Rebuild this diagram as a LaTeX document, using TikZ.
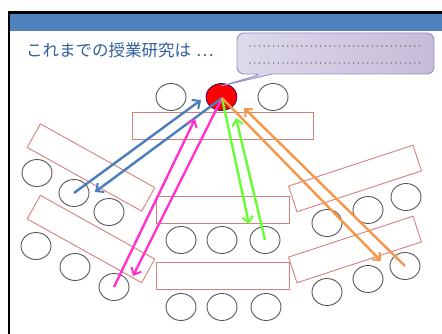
\documentclass[tikz,border=0pt]{standalone}
\usepackage{fontspec}
\newfontfamily\cjk{Noto Sans CJK JP}
\usetikzlibrary{shapes.geometric,arrows.meta}
\definecolor{barblue}{HTML}{4F81BD}
\definecolor{titleblue}{HTML}{2F5E9E}
\definecolor{deskred}{HTML}{D4807C}
\definecolor{seatgray}{HTML}{555555}
\definecolor{arrblue}{HTML}{4A7EBB}
\definecolor{arrmag}{HTML}{FF33CC}
\definecolor{arrgreen}{HTML}{66FF33}
\definecolor{arrorange}{HTML}{F79646}
\definecolor{calloutA}{HTML}{E0DBEC}
\definecolor{calloutB}{HTML}{C6BCD9}
\definecolor{calloutline}{HTML}{9D8CC2}
\tikzset{
  seat/.style={ellipse, draw=seatgray, line width=0.9pt, minimum width=30pt, minimum height=27pt, inner sep=0pt},
  desk/.style={rectangle, draw=deskred, line width=0.9pt, minimum width=131pt, minimum height=27pt, inner sep=0pt},
  arr/.style={line width=2.4pt, -{Straight Barb[length=6pt,width=11pt,line width=2pt]}},
  dotline/.style={gray, line width=1.6pt, line cap=round, dash pattern=on 0.01pt off 4.7pt},
}
\begin{document}
\begin{tikzpicture}[x=1pt,y=-1pt]
\useasboundingbox (0,0) rectangle (442,334);
% frame
\fill[barblue] (9,13) rectangle (442,31);
\draw[line width=2.5pt] (9,334) -- (9,12.5) -- (442,12.5);
% title
\node[anchor=west, inner sep=0pt, text=titleblue, font=\cjk\fontsize{16.5pt}{18pt}\selectfont] (title) at (26,50) {これまでの授業研究は\hspace{5pt}…};
% desks
\node[desk, minimum width=181pt] (d1) at (222.5,125.5) {};
\node[desk, minimum width=133pt] (d2) at (222.5,209.5) {};
\node[desk, minimum width=133pt] (d3) at (222.5,275.5) {};
\node[desk, rotate=-29.1] (dl1) at (91,167.5) {};
\node[desk, rotate=-29.1] (dl2) at (91,239) {};
\node[desk, rotate=18.2] (dr1) at (355,178.5) {};
\node[desk, rotate=18.2] (dr2) at (355,249.5) {};
% seats
\node[seat] (t1) at (171,97) {};
\node[seat] (t3) at (273,97) {};
\node[seat] (m1) at (181,240) {};
\node[seat] (m2) at (222,240) {};
\node[seat] (m3) at (265,240) {};
\node[seat] (b1) at (181,307) {};
\node[seat] (b2) at (222,307) {};
\node[seat] (b3) at (266,307) {};
\node[seat] (la1) at (37,173) {};
\node[seat] (la2) at (74,193) {};
\node[seat] (la3) at (109,212) {};
\node[seat] (lb1) at (36,246) {};
\node[seat] (lb2) at (75,267) {};
\node[seat] (lb3) at (114,287) {};
\node[seat] (ra1) at (327,223) {};
\node[seat] (ra2) at (368,210) {};
\node[seat] (ra3) at (406,197) {};
\node[seat] (rb1) at (327,292) {};
\node[seat] (rb2) at (368,279) {};
\node[seat] (rb3) at (405,266) {};
% teacher
\node[ellipse, fill=red, draw=black!60!blue, line width=0.6pt, minimum width=31pt, minimum height=27pt, inner sep=0pt] (t2) at (221.5,97) {};
% callout
\path[draw=calloutline, line width=0.9pt, left color=calloutA, right color=calloutB, rounded corners=7pt]
  (272,74) -- (434,74) -- (434,33) -- (237,33) -- (237,74) -- (262,74) [sharp corners] -- (221,86) -- cycle;
\coordinate (ctip) at (221,86);
\draw[dotline] (250,46) -- (421,46);
\draw[dotline] (250,63) -- (421,63);
% arrow heads
\coordinate (hb1) at (201,100);
\coordinate (hb2) at (95,192);
\coordinate (hm1) at (195,119);
\coordinate (hm2) at (133,276);
\coordinate (hg1) at (249,224);
\coordinate (hg2) at (236,118);
\coordinate (ho1) at (381,261);
\coordinate (ho2) at (244,108);
\coordinate (tc) at (222,98);
% arrows
\draw[arr, arrblue] (la2.center) -- (hb1);
\draw[arr, arrblue] (tc) -- (hb2);
\draw[arr, arrmag] (lb3.center) -- (hm1);
\draw[arr, arrmag] (tc) -- (hm2);
\draw[arr, arrgreen] (tc) -- (hg1);
\draw[arr, arrgreen] (m3.center) -- (hg2);
\draw[arr, arrorange] (tc) -- (ho1);
\draw[arr, arrorange] (rb3.center) -- (ho2);
\end{tikzpicture}
\end{document}
